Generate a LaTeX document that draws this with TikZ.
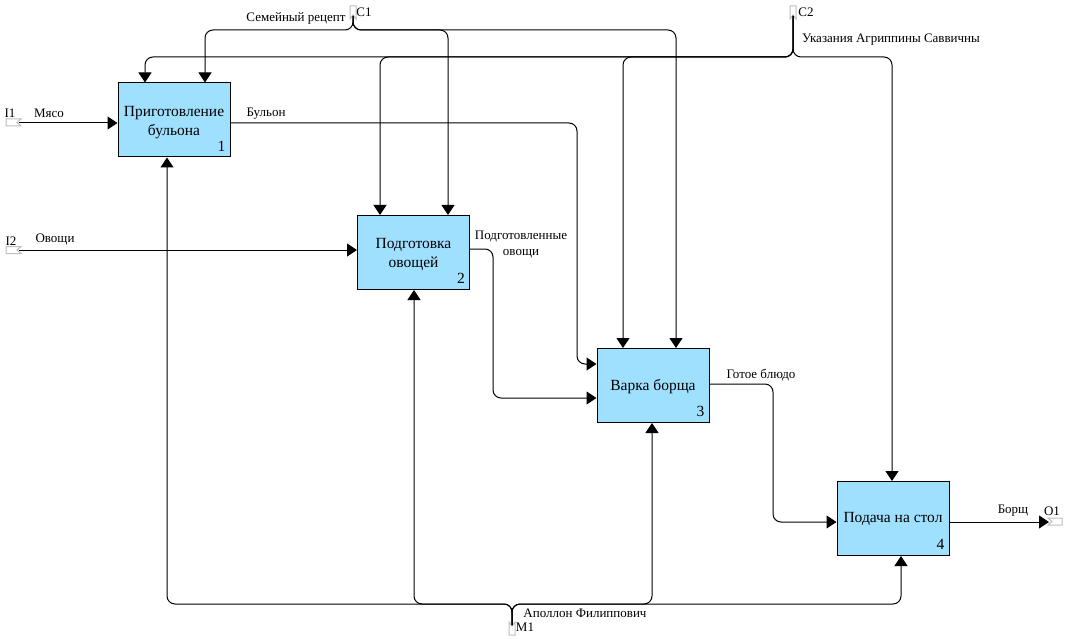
\documentclass[tikz,border=0pt]{standalone}
\usepackage{fontspec}
\setmainfont{Liberation Serif}
\usetikzlibrary{arrows.meta}
\definecolor{boxfill}{RGB}{160,224,255}
\definecolor{tunnel}{RGB}{190,190,190}
\begin{document}
\begin{tikzpicture}[x=1pt,y=-1pt,
  box/.style={draw, line width=1pt, fill=boxfill, minimum width=112pt, minimum height=74pt, inner sep=0pt},
  boxtext/.style={inner sep=0pt, align=center, font=\fontsize{15.5}{19}\selectfont},
  num/.style={anchor=south east, inner sep=0pt, xshift=-5pt, yshift=6pt, font=\fontsize{15.5}{16}\selectfont},
  lbl/.style={inner sep=0pt, font=\fontsize{13}{15}\selectfont},
  wire/.style={line width=1pt, rounded corners=8pt},
  arr/.style={wire, -{Triangle[length=10pt,width=13pt]}},
  tunnelmark/.style={draw=tunnel, line width=1pt, fill=white}]
\useasboundingbox (0,0) rectangle (1065,639);

% boxes
\node[box] (b1) at (174,120) {};
\node[box] (b2) at (413.5,252.5) {};
\node[box] (b3) at (653,385.5) {};
\node[box] (b4) at (893,518.5) {};
\node[boxtext] (t1) at ([yshift=-2.5pt]b1.center) {Приготовление\\бульона};
\node[boxtext] (t2) at ([yshift=-2.5pt]b2.center) {Подготовка\\овощей};
\node[boxtext] (t3) at ([yshift=-1pt]b3.center) {Варка борща};
\node[boxtext] (t4) at ([yshift=-0.5pt]b4.center) {Подача на стол};
\node[num] (n1) at (b1.south east) {1};
\node[num] (n2) at (b2.south east) {2};
\node[num] (n3) at (b3.south east) {3};
\node[num] (n4) at (b4.south east) {4};

% tunnel markers
\draw[tunnelmark] (6,119) -- (21,119) -- (17,122.5) -- (21,126) -- (6,126) -- cycle;
\draw[tunnelmark] (6,246.5) -- (21,246.5) -- (17,250) -- (21,253.5) -- (6,253.5) -- cycle;
\draw[tunnelmark] (350,6) -- (356,6) -- (356,19) -- (353,15) -- (350,19) -- cycle;
\draw[tunnelmark] (790,6) -- (796,6) -- (796,19) -- (793,15) -- (790,19) -- cycle;
\draw[tunnelmark] (509,622) -- (512,626) -- (515,622) -- (515,635) -- (509,635) -- cycle;
\draw[tunnelmark] (1048,518) -- (1062,518) -- (1062,525) -- (1048,525) -- (1052,521.5) -- cycle;
\coordinate (i1) at (19,123);
\coordinate (i2) at (19,250);
\coordinate (c1) at (353,16);
\coordinate (c2) at (793,16);
\coordinate (m1) at (512,625);
\coordinate (o1) at (1049,522);

% inputs
\draw[arr] (i1) -- (b1.west |- i1);
\draw[arr] (i2) -- (b2.west |- i2);
% outputs
\draw[arr] (b1.east |- 0,123) -- (577,123) -- (577,364) -- (b3.west |- 0,364);
\draw[arr] (b2.east |- 0,249) -- (493,249) -- (493,398) -- (b3.west |- 0,398);
\draw[arr] (b3.east |- 0,384) -- (773,384) -- (773,522) -- (b4.west |- 0,522);
\draw[arr] (b4.east |- o1) -- (o1);

% controls C1
\draw[arr] (c1) -- (353,30) -- (205,30) -- (b1.north -| 205,0);
\draw[arr] (c1) -- (353,30) -- (448,30) -- (b2.north -| 448,0);
\draw[arr] (c1) -- (353,30) -- (676,30) -- (b3.north -| 676,0);
% controls C2
\draw[arr] (c2) -- (793,57) -- (145,57) -- (b1.north -| 145,0);
\draw[arr] (c2) -- (793,57) -- (380,57) -- (b2.north -| 380,0);
\draw[arr] (c2) -- (793,57) -- (623,57) -- (b3.north -| 623,0);
\draw[arr] (c2) -- (793,57) -- (892,57) -- (b4.north -| 892,0);

% mechanisms M1
\draw[arr] (m1) -- (512,604) -- (167,604) -- (b1.south -| 167,0);
\draw[arr] (m1) -- (512,604) -- (414,604) -- (b2.south -| 414,0);
\draw[arr] (m1) -- (512,604) -- (652,604) -- (b3.south -| 652,0);
\draw[arr] (m1) -- (512,604) -- (901,604) -- (b4.south -| 901,0);

% labels
\node[lbl] (l1) at (10,113) {I1};
\node[lbl] (l2) at (49,113) {Мясо};
\node[lbl] (l3) at (11,241) {I2};
\node[lbl] (l4) at (55,240) {Овощи};
\node[lbl] (l5) at (266,114) {Бульон};
\node[lbl, align=center, font=\fontsize{13}{16}\selectfont] (l6) at (521,245) {Подготовленные\\овощи};
\node[lbl] (l7) at (761,375) {Готое блюдо};
\node[lbl] (l8) at (1013,511) {Борщ};
\node[lbl] (l9) at (1052,511) {O1};
\node[lbl] (l10) at (296,18) {Семейный рецепт};
\node[lbl] (l11) at (364,12) {C1};
\node[lbl] (l12) at (806,12) {C2};
\node[lbl] (l13) at (891,40) {Указания Агриппины Саввичны};
\node[lbl] (l14) at (585,613) {Аполлон Филиппович};
\node[lbl] (l15) at (525,627) {M1};
\end{tikzpicture}
\end{document}
